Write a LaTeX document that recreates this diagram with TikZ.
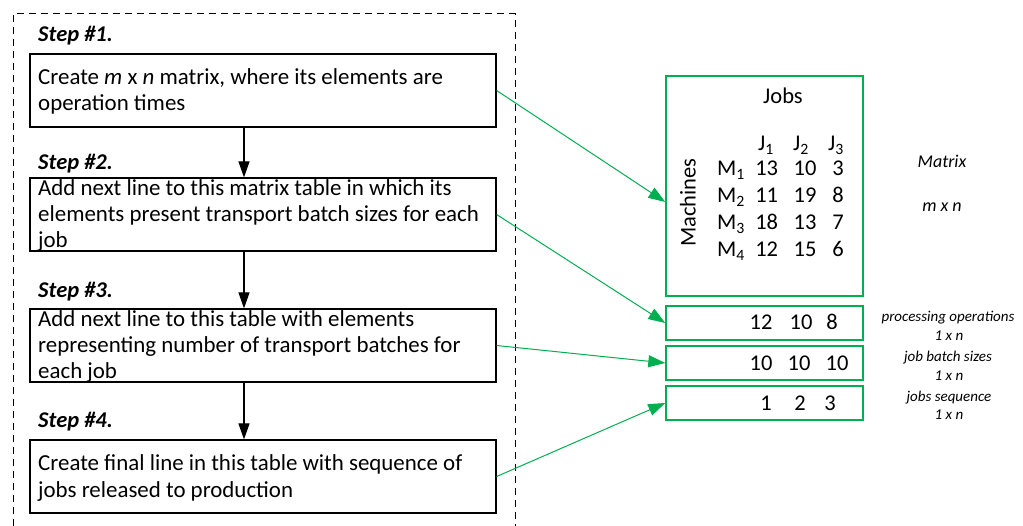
\documentclass[tikz,border=0pt]{standalone}
\usepackage{fontspec}
\setmainfont{Carlito}
\usetikzlibrary{arrows.meta}
\definecolor{xgreen}{RGB}{0,176,80}
\begin{document}
\begin{tikzpicture}[x=1pt,y=-1pt,
  stepbox/.style={draw=black,line width=1.2pt,minimum width=466pt,minimum height=73pt,inner sep=0pt},
  steptext/.style={anchor=base west,align=left,inner sep=0pt,font=\fontsize{22.9}{26.3}\selectfont},
  steplabel/.style={anchor=base west,inner sep=0pt,font=\fontsize{22.5}{27}\selectfont\bfseries\itshape},
  flow/.style={line width=1.2pt,-{Triangle[length=16pt,width=11pt]}},
  gbox/.style={draw=xgreen,line width=1.4pt,inner sep=0pt,minimum width=197pt},
  glink/.style={draw=xgreen,line width=1pt,-{Triangle[length=17pt,width=12pt]}},
  cell/.style={anchor=base,inner sep=0pt,font=\fontsize{22.5}{27}\selectfont},
  note/.style={inner sep=0pt,font=\fontsize{15}{18}\selectfont\itshape},
  big/.style={inner sep=0pt,font=\fontsize{18}{21}\selectfont\itshape},
]
\useasboundingbox (0,0) rectangle (1023,526);
\draw[dash pattern=on 7pt off 5pt, line width=1pt] (13,526) -- (13,14) -- (515,14) -- (515,526);

% step boxes
\node[stepbox] (b1) at (263,90.5) {};
\node[stepbox] (b2) at (263,214.5) {};
\node[stepbox] (b3) at (263,345.5) {};
\node[stepbox] (b4) at (263,476.5) {};

\node[steplabel] (s1) at (38,41.5) {Step \#1.};
\node[steplabel] (s2) at (38,169.5) {Step \#2.};
\node[steplabel] (s3) at (38,298) {Step \#3.};
\node[steplabel] (s4) at (38,428) {Step \#4.};

% anchor base = baseline of the last line
\node[steptext] (t1) at (38,110.7) {Create \textit{m} x \textit{n} matrix, where its elements are\\operation times};
\node[steptext] (t2) at (38,248) {Add next line to this matrix table in which its\\elements present transport batch sizes for each\\job};
\node[steptext] (t3) at (38,379) {Add next line to this table with elements\\representing number of transport batches for\\each job};
\node[steptext] (t4) at (38,497) {Create final line in this table with sequence of\\jobs released to production};

\coordinate (ax) at (244,0);
\draw[flow] (b1.south -| ax) -- (b2.north -| ax);
\draw[flow] (b2.south -| ax) -- (b3.north -| ax);
\draw[flow] (b3.south -| ax) -- (b4.north -| ax);

% matrix
\node[gbox,minimum height=220pt] (mat) at (764.5,186) {};
\node[gbox,minimum height=34pt] (ra) at (764.5,323) {};
\node[gbox,minimum height=34pt] (rb) at (764.5,363) {};
\node[gbox,minimum height=34pt] (rc) at (764.5,403) {};

\node[cell] (jobs) at (783,104) {Jobs};
\node[cell] (j1) at (766,151) {J\textsubscript{1}};
\node[cell] (j2) at (801,151) {J\textsubscript{2}};
\node[cell] (j3) at (836,151) {J\textsubscript{3}};
\node[rotate=90,inner sep=0pt,font=\fontsize{22.5}{27}\selectfont] (mach) at (688,202.5) {Machines};

\node[cell] (m1) at (731,176) {M\textsubscript{1}};
\node[cell] (m2) at (731,203) {M\textsubscript{2}};
\node[cell] (m3) at (731,230) {M\textsubscript{3}};
\node[cell] (m4) at (731,257) {M\textsubscript{4}};

\node[cell] (a11) at (766.7,176) {13};
\node[cell] (a12) at (805,176) {10};
\node[cell] (a13) at (838,176) {3};
\node[cell] (a21) at (766.7,203) {11};
\node[cell] (a22) at (805,203) {19};
\node[cell] (a23) at (838,203) {8};
\node[cell] (a31) at (766.7,230) {18};
\node[cell] (a32) at (805,230) {13};
\node[cell] (a33) at (838,230) {7};
\node[cell] (a41) at (766.7,257) {12};
\node[cell] (a42) at (805,257) {15};
\node[cell] (a43) at (838,257) {6};

\node[cell] (p1) at (761,330) {12};
\node[cell] (p2) at (801,330) {10};
\node[cell] (p3) at (832,330) {8};
\node[cell] (q1) at (761,371) {10};
\node[cell] (q2) at (799,371) {10};
\node[cell] (q3) at (837,371) {10};
\node[cell] (r1) at (766,411) {1};
\node[cell] (r2) at (800,411) {2};
\node[cell] (r3) at (830,411) {3};

\node[big] (mlab) at (942,161) {Matrix};
\node[big] (mxn) at (942,207) {m x n};

\node[note] (n1) at (948,318) {processing operations};
\node[note] (n1b) at (949,336) {1 x n};
\node[note] (n2) at (948,358) {job batch sizes};
\node[note] (n2b) at (949,376) {1 x n};
\node[note] (n3) at (949,398) {jobs sequence};
\node[note] (n3b) at (949,415) {1 x n};

\draw[glink] (b1.east) -- ([yshift=-16pt]mat.west);
\draw[glink] (b2.east) -- (ra.west);
\draw[glink] (b3.east) -- (rb.west);
\draw[glink] (b4.east) -- (rc.west);
\end{tikzpicture}
\end{document}
